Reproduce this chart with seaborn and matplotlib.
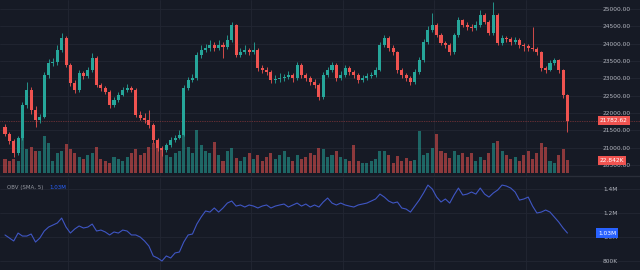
import numpy as np
import matplotlib
matplotlib.use("Agg")
import matplotlib.pyplot as plt
import matplotlib.transforms as mtransforms
import seaborn as sns

# ---------------- data ----------------
opens = [21600, 21400, 21200, 20850, 21280, 22240, 22670, 22090, 21800, 21890,
         23100, 23450, 23470, 23820, 24170, 23390, 22870, 22670, 23160, 23070,
         23240, 23590, 22810, 22730, 22610, 22240, 22380, 22520, 22670, 22730,
         22670, 21950, 21860, 21800, 21660, 21230, 21000, 20940, 21080, 21230,
         21290, 21370, 22730, 22960, 23010, 23680, 23820, 23880, 23960, 23880,
         23960, 23910, 24110, 24540, 23680, 23760, 23820, 23760, 23820, 23300,
         23240, 23190, 22960, 22990, 23010, 23040, 23100, 23010, 23390, 23100,
         23010, 22900, 22810, 22470, 23100, 23240, 23390, 23010, 23100, 23300,
         23190, 23100, 22960, 23010, 23070, 23100, 23240, 23960, 24170, 23880,
         23760, 23240, 23100, 23010, 22900, 23190, 23530, 24050, 24400, 24540,
         24250, 24020, 23960, 23760, 24250, 24680, 24540, 24480, 24450, 24540,
         24830, 24630, 24310, 24830, 24020, 24170, 24130, 24050, 24110, 23960,
         23930, 23880, 23850, 23760, 23300, 23240, 23450, 23530, 23240, 22520]
closes = [21400, 21200, 20850, 21280, 22240, 22670, 22090, 21800, 21890, 23100,
          23450, 23470, 23820, 24170, 23390, 22870, 22670, 23160, 23070, 23240,
          23590, 22810, 22730, 22610, 22240, 22380, 22520, 22670, 22730, 22670,
          21950, 21860, 21800, 21660, 21230, 21000, 20940, 21080, 21230, 21290,
          21370, 22730, 22960, 23010, 23680, 23820, 23880, 23960, 23880, 23960,
          23910, 24110, 24540, 23680, 23760, 23820, 23760, 23820, 23300, 23240,
          23190, 22960, 22990, 23010, 23040, 23100, 23010, 23390, 23100, 23010,
          22900, 22810, 22470, 23100, 23240, 23390, 23010, 23100, 23300, 23190,
          23100, 22960, 23010, 23070, 23100, 23240, 23960, 24170, 23880, 23760,
          23240, 23100, 23010, 22900, 23190, 23530, 24050, 24400, 24540, 24250,
          24020, 23960, 23760, 24250, 24680, 24540, 24480, 24450, 24540, 24830,
          24630, 24310, 24830, 24020, 24170, 24130, 24050, 24110, 23960, 23930,
          23880, 23850, 23760, 23300, 23240, 23450, 23530, 23240, 22520, 21782.62]
highs = [21680, 21450, 21250, 21330, 22320, 22900, 22750, 22200, 21980, 23180,
         23560, 23600, 23950, 24310, 24220, 23450, 22950, 23250, 23200, 23330,
         23720, 23640, 22880, 22780, 22660, 22450, 22600, 22760, 22850, 22790,
         22720, 22050, 22000, 22100, 21700, 21290, 21060, 21150, 21300, 21360,
         21500, 22800, 23050, 23120, 23760, 23950, 24000, 24120, 24050, 24100,
         24050, 24250, 24625, 24580, 23880, 23950, 23880, 24050, 23870, 23380,
         23320, 23250, 23100, 23150, 23120, 23200, 23150, 23480, 23430, 23150,
         23080, 22980, 22860, 23180, 23330, 23480, 23430, 23200, 23400, 23360,
         23250, 23150, 23100, 23150, 23180, 23330, 24050, 24250, 24220, 23950,
         23800, 23300, 23150, 23080, 23270, 23620, 24130, 24500, 24885, 24600,
         24300, 24080, 24010, 24320, 24760, 24720, 24620, 24560, 24650, 24970,
         24880, 24680, 25200, 24880, 24260, 24230, 24200, 24190, 24160, 24020,
         23990, 24480, 23900, 23800, 23360, 23530, 23600, 23570, 23280, 22560]
lows = [21330, 21100, 20740, 20800, 21230, 22150, 21980, 21600, 21720, 21850,
        23020, 23360, 23400, 23760, 23330, 22780, 22580, 22620, 22980, 23010,
        23190, 22740, 22650, 22540, 22150, 22180, 22330, 22480, 22620, 22600,
        21880, 21790, 21720, 21580, 21150, 20920, 20760, 20870, 21020, 21180,
        21240, 21330, 22660, 22900, 22950, 23600, 23760, 23800, 23780, 23820,
        23600, 23850, 24050, 23620, 23620, 23700, 23680, 23700, 23220, 23150,
        23100, 22880, 22880, 22900, 22930, 22980, 22900, 22960, 23020, 22920,
        22820, 22720, 22380, 22420, 23050, 23180, 22930, 22950, 23050, 23110,
        23020, 22880, 22900, 22960, 23000, 23050, 23200, 23900, 23800, 23680,
        23160, 23020, 22930, 22820, 22850, 23140, 23480, 23990, 24330, 24180,
        23950, 23880, 23680, 23700, 24200, 24470, 24400, 24380, 24390, 24480,
        24560, 24240, 24260, 23950, 23960, 24050, 23970, 23990, 23880, 23780,
        23800, 23780, 23680, 23220, 23160, 23200, 23400, 23160, 22440, 21460]
volumes_k = [25, 22, 25, 22, 65, 43, 47, 40, 40, 67,
             54, 22, 36, 40, 52, 43, 36, 29, 25, 32,
             36, 47, 25, 22, 18, 29, 25, 22, 29, 36,
             43, 32, 36, 47, 54, 50, 43, 32, 29, 36,
             40, 72, 47, 36, 77, 50, 40, 36, 56, 32,
             22, 40, 45, 27, 22, 29, 36, 25, 32, 22,
             29, 36, 25, 32, 40, 29, 22, 32, 25, 29,
             36, 32, 45, 43, 29, 32, 40, 29, 25, 22,
             50, 22, 18, 18, 22, 25, 40, 40, 32, 18,
             31, 22, 27, 22, 23, 76, 32, 36, 45, 70,
             40, 36, 27, 40, 32, 36, 29, 36, 22, 29,
             23, 36, 54, 58, 40, 32, 25, 29, 22, 32,
             40, 25, 36, 54, 47, 22, 18, 32, 43, 22.842]
obv_k = [1017, 992, 967, 1033, 1008, 1008, 1025, 958, 992, 1050,
         1083, 1100, 1117, 1158, 1083, 1033, 1067, 1092, 1075, 1083,
         1108, 1050, 1058, 1042, 1017, 1042, 1033, 1058, 1050, 1017,
         1017, 1000, 967, 925, 842, 825, 800, 842, 825, 867,
         875, 958, 1017, 1025, 1108, 1167, 1217, 1208, 1242, 1208,
         1242, 1283, 1300, 1258, 1267, 1250, 1267, 1258, 1242, 1258,
         1267, 1242, 1258, 1267, 1275, 1250, 1267, 1283, 1258, 1275,
         1250, 1267, 1250, 1292, 1325, 1283, 1267, 1283, 1267, 1258,
         1250, 1267, 1275, 1283, 1300, 1317, 1358, 1333, 1300, 1283,
         1292, 1242, 1233, 1208, 1258, 1308, 1367, 1433, 1400, 1333,
         1292, 1317, 1283, 1350, 1408, 1350, 1358, 1375, 1358, 1408,
         1358, 1333, 1367, 1392, 1433, 1425, 1408, 1375, 1308, 1317,
         1333, 1258, 1200, 1208, 1225, 1208, 1167, 1125, 1075, 1033]
price_ticks = [20500, 21000, 21500, 22000, 22500, 23000, 23500, 24000, 24500, 25000]
obv_ticks = [800, 1000, 1200, 1400]
obv_tick_labels = ["800K", "1.0M", "1.2M", "1.4M"]
last_price_label = "21782.62"
last_volume_label = "22.842K"
obv_title = "OBV (SMA, 5)"
obv_last_label = "1.03M"

# ---------------- style ----------------
BG = "#161a25"
GRID = "#222633"
UP = "#26a69a"
DOWN = "#ef5350"
TXT = "#b2b5be"

sns.set_theme(style="dark", rc={"axes.facecolor": BG, "figure.facecolor": BG,
                                 "axes.edgecolor": BG, "grid.color": GRID})
plt.rcParams["font.family"] = ["DejaVu Sans"]

fig = plt.figure(figsize=(6.4, 2.7), dpi=100)
ax = fig.add_axes([0, 94 / 270, 1, 176 / 270])
axo = fig.add_axes([0, 0, 1, 92 / 270])

n = len(closes)
idx = np.arange(n)
o = np.array(opens, float)
c = np.array(closes, float)
h = np.array(highs, float)
l = np.array(lows, float)
up = c >= o
cols = np.where(up, UP, DOWN)

step = 4.36
x0 = -5 / step
x1 = (640 - 5) / step

# volume axis (twin, created first so price ticks can be put on the right after)
axv = ax.twinx()

# price panel
ax.set_xlim(x0, x1)
ax.set_ylim(20187, 25259)
ax.set_yticks(price_ticks)
ax.set_yticklabels([f"{t:.2f}" for t in price_ticks])
ax.yaxis.tick_right()
ax.tick_params(axis="y", direction="in", length=0, pad=-26.6, labelsize=4.2,
               labelcolor=TXT, labelleft=False, labelright=True)
ax.set_xticks([])
for s in ax.spines.values():
    s.set_visible(False)
ax.spines["bottom"].set_visible(True)
ax.spines["bottom"].set_color("#2a2e39")
ax.spines["bottom"].set_linewidth(1.0)
for t in price_ticks:
    ax.axhline(t, color=GRID, lw=0.6, zorder=0)
vgrid = [14.5, 35.5, 56.5, 77.5, 98.5, 119.5]
for v in vgrid:
    ax.axvline(v, color=GRID, lw=0.6, zorder=0)
    axo.axvline(v, color=GRID, lw=0.6, zorder=0)

ax.vlines(idx, l, h, colors=cols, lw=0.6, zorder=3)
body = np.maximum(np.abs(c - o), 12)
ax.bar(idx, body, bottom=np.minimum(o, c), width=0.7, color=cols, lw=0, zorder=4)
ax.axhline(closes[-1], color=DOWN, lw=0.5, ls=(0, (1, 1.5)), alpha=0.7, zorder=2)

blend = mtransforms.blended_transform_factory(ax.transAxes, ax.transData)
ax.text(600 / 640, closes[-1], last_price_label, transform=blend, ha="left",
        va="center", fontsize=4.2, color="white", zorder=10,
        bbox=dict(boxstyle="square,pad=0.3", fc=DOWN, ec="none"))

# volume bars
axv.set_xlim(x0, x1)
axv.set_ylim(-5.4, 311.4)
axv.bar(idx, volumes_k, width=0.7, color=cols, alpha=0.55, lw=0, zorder=2)
axv.set_yticks([])
for s in axv.spines.values():
    s.set_visible(False)
blendv = mtransforms.blended_transform_factory(axv.transAxes, axv.transData)
axv.text(600 / 640, volumes_k[-1], last_volume_label, transform=blendv,
         ha="left", va="center", fontsize=4.2, color="white", zorder=10,
         bbox=dict(boxstyle="square,pad=0.3", fc=DOWN, ec="none"))

# OBV panel
sns.lineplot(x=idx, y=obv_k, ax=axo, color="#3f56c4", lw=0.8)
axo.set_xlim(x0, x1)
axo.set_ylim(725, 1492)
axo.set_yticks(obv_ticks)
axo.set_yticklabels(obv_tick_labels)
axo.yaxis.tick_right()
axo.tick_params(axis="y", direction="in", length=0, pad=-26.6, labelsize=4.2,
                labelcolor=TXT)
axo.set_xticks([])
axo.set_xlabel("")
axo.set_ylabel("")
for s in axo.spines.values():
    s.set_visible(False)
for t in obv_ticks:
    axo.axhline(t, color=GRID, lw=0.6, zorder=0)
blendo = mtransforms.blended_transform_factory(axo.transAxes, axo.transData)
axo.text(598 / 640, obv_k[-1], obv_last_label, transform=blendo, ha="left",
         va="center", fontsize=4.2, color="white", zorder=10,
         bbox=dict(boxstyle="square,pad=0.4", fc="#2962ff", ec="none"))
axo.text(7 / 640, 0.9, obv_title, transform=axo.transAxes, ha="left",
         va="center", fontsize=4.0, color="#9598a1")
axo.text(49 / 640, 0.9, obv_last_label, transform=axo.transAxes, ha="left",
         va="center", fontsize=4.0, color="#2962ff")

fig.savefig("out.png", dpi=100, facecolor=BG)
